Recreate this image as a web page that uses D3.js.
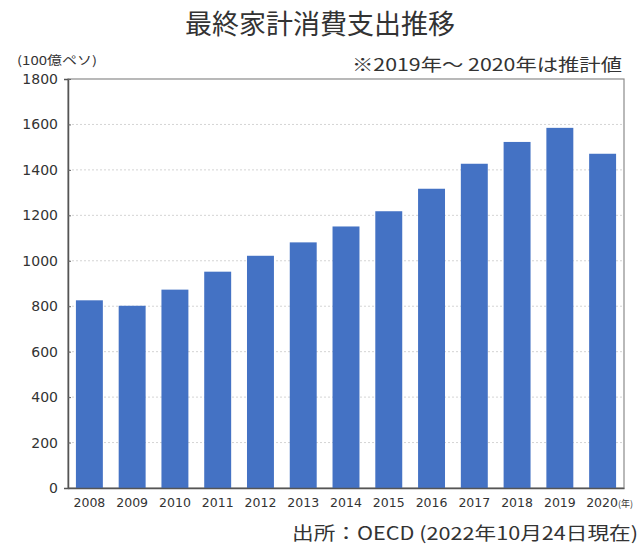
<!DOCTYPE html>
<html>
<head>
<meta charset="utf-8">
<script src="https://cdn.jsdelivr.net/npm/d3@7"></script>
<style>
  body { margin: 0; background: #fff; }
  text { font-family: "Noto Sans CJK JP", "DejaVu Sans", sans-serif; fill: #333; }
</style>
</head>
<body>
<div id="chart"></div>
<script>
// data
const years = ["2008", "2009", "2010", "2011", "2012", "2013", "2014",
               "2015", "2016", "2017", "2018", "2019", "2020"]
const spending = [826, 802, 873, 952, 1022, 1081, 1151,
                  1218, 1317, 1427, 1523, 1585, 1471]
const yTicks = [0, 200, 400, 600, 800, 1000, 1200, 1400, 1600, 1800]

const title = "最終家計消費支出推移"
const unitLabel = "(100億ペソ)"
const note = "※2019年～ 2020年は推計値"
const source = "出所：OECD (2022年10月24日現在)"

const dimensions = {
    width: 643,
    height: 545,
    margin: {
        top: 79,
        right: 19,
        bottom: 57,
        left: 68,
    },
}
dimensions.boundedWidth = dimensions.width
    - dimensions.margin.left
    - dimensions.margin.right
dimensions.boundedHeight = dimensions.height
    - dimensions.margin.top
    - dimensions.margin.bottom

const wrapper = d3.select("#chart")
    .append("svg")
    .attr("width", dimensions.width)
    .attr("height", dimensions.height)

const bounds = wrapper.append("g")
    .attr("transform", `translate(${dimensions.margin.left},${dimensions.margin.top})`)

// scales
const xScale = d3.scaleBand()
    .domain(years)
    .range([0, dimensions.boundedWidth])
    .paddingInner(0.37)
    .paddingOuter(0.185)

const yScale = d3.scaleLinear()
    .domain([0, 1800])
    .range([dimensions.boundedHeight, 0])

// gridlines
bounds.append("g")
    .selectAll("line")
    .data(yTicks.slice(1, -1))
    .join("line")
    .attr("x1", 0)
    .attr("x2", dimensions.boundedWidth)
    .attr("y1", d => yScale(d))
    .attr("y2", d => yScale(d))
    .attr("stroke", "#d4d4d4")
    .attr("stroke-dasharray", "2,2")

// frame
bounds.append("rect")
    .attr("width", dimensions.boundedWidth)
    .attr("height", dimensions.boundedHeight)
    .attr("fill", "none")
    .attr("stroke", "#8a8a8a")
    .attr("stroke-width", 1.2)

// bars
bounds.selectAll("rect.bar")
    .data(years.map((y, i) => ({ year: y, value: spending[i] })))
    .join("rect")
    .attr("class", "bar")
    .attr("x", d => xScale(d.year))
    .attr("y", d => yScale(d.value))
    .attr("width", xScale.bandwidth())
    .attr("height", d => dimensions.boundedHeight - yScale(d.value))
    .attr("fill", "#4472c4")

// axes
const yAxis = bounds.append("g")
    .call(d3.axisLeft(yScale).tickValues(yTicks).tickFormat(d3.format("d")).tickSize(4).tickPadding(6))
yAxis.select(".domain").attr("stroke", "#555").attr("stroke-width", 1.5)
yAxis.selectAll(".tick line").attr("stroke", "#666").attr("x2", 3)
yAxis.selectAll(".tick text")
    .style("font-size", "14px")
    .style("font-family", "'DejaVu Sans', sans-serif")
    .style("fill", "#333")

const xAxis = bounds.append("g")
    .attr("transform", `translate(0,${dimensions.boundedHeight})`)
    .call(d3.axisBottom(xScale).tickSize(0).tickPadding(10))
xAxis.select(".domain").attr("stroke", "#555").attr("stroke-width", 1.5)
xAxis.selectAll(".tick text")
    .style("font-size", "12.5px")
    .style("font-family", "'DejaVu Sans', sans-serif")
    .style("fill", "#333")
xAxis.selectAll(".tick")
    .filter(d => d === years[years.length - 1])
    .select("text")
    .attr("text-anchor", "start")
    .attr("dx", -xScale.bandwidth() / 2 - 3)
    .append("tspan")
    .style("font-size", "9px")
    .style("font-family", "'Noto Sans CJK JP', sans-serif")
    .text("(年)")

// texts
wrapper.append("text")
    .attr("x", 320)
    .attr("y", 34)
    .attr("text-anchor", "middle")
    .attr("font-size", 27)
    .text(title)

wrapper.append("text")
    .attr("x", 17)
    .attr("y", 65)
    .attr("font-size", 12)
    .attr("textLength", 80)
    .attr("lengthAdjust", "spacingAndGlyphs")
    .text(unitLabel)

wrapper.append("text")
    .attr("x", 352)
    .attr("y", 71)
    .attr("font-size", 17)
    .attr("textLength", 270)
    .attr("lengthAdjust", "spacingAndGlyphs")
    .text(note)

wrapper.append("text")
    .attr("x", 292)
    .attr("y", 540)
    .attr("font-size", 18)
    .attr("textLength", 346)
    .attr("lengthAdjust", "spacingAndGlyphs")
    .text(source)
</script>
</body>
</html>
